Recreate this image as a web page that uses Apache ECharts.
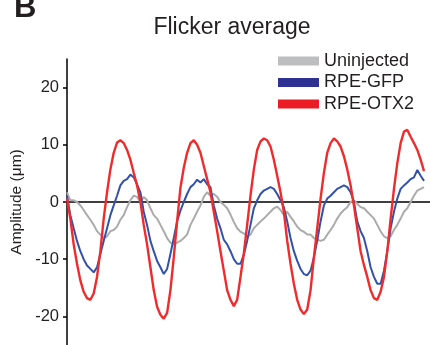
<!DOCTYPE html>
<html>
<head>
<meta charset="utf-8">
<title>Flicker average</title>
<script src="https://cdn.jsdelivr.net/npm/echarts@6/dist/echarts.min.js"></script>
<style>
  html, body { margin: 0; padding: 0; background: #fff; }
  #chart { width: 430px; height: 345px; }
</style>
</head>
<body>
<div id="chart"></div>
<script>
// amplitude (um), one value per sample
const uninjected = [
  1.7, 0.3, 0.3, 0, -0.6, -1.4, -2.3, -3.1, -4.0, -5.1, -5.7, -6.3, -6.0, -5.1, -4.9, -4.3, -3.1, -2.3,
  -0.9, 0.3, 1.1, 0.9, 0, 0.9, 0.3, -1.1, -2.3, -2.9, -4.0, -5.1, -6.3, -7.1, -7.4, -7.1, -6.8, -6.3,
  -5.7, -4.0, -2.9, -1.7, -0.6, 0.9, 1.7, 1.1, 1.4, 0.9, 0, -0.5, -1.1, -2.2, -3.5, -4.6, -5.2, -5.5,
  -6.0, -5.7, -4.6, -4.0, -3.4, -2.9, -2.3, -1.7, -1.1, -0.8, -1.4, -2.3, -1.7, -2.6, -3.4, -4.3, -4.9, -5.2,
  -5.7, -5.7, -6.3, -6.6, -6.8, -6.6, -5.7, -4.9, -4.0, -2.9, -2.0, -1.4, -0.9, 0, 0.3, -0.3, -0.9, -1.1,
  -1.7, -2.3, -2.9, -4.0, -5.1, -6.0, -6.3, -6.0, -4.9, -4.0, -2.9, -1.7, -1.1, 0, 1.1, 2.0, 2.3, 2.6
];
const rpeGfp = [
  1.1, -2.3, -4.6, -6.8, -8.6, -10.0, -11.1, -11.7, -12.3, -11.4, -9.1, -6.8, -4.6, -2.3, -0.6, 1.1, 2.9, 3.7,
  4.0, 4.8, 4.3, 3.1, 1.7, -1.7, -4.0, -6.8, -8.6, -10.3, -11.4, -12.6, -11.7, -9.1, -6.3, -3.4, -1.5, 0,
  1.4, 2.6, 3.1, 3.9, 3.4, 4.0, 3.1, 2.6, -0.6, -2.9, -4.6, -6.6, -7.4, -8.6, -10.0, -10.8, -10.8, -9.2,
  -6.8, -4.0, -1.1, 0.3, 1.4, 2.0, 2.3, 2.6, 2.3, 1.4, 0.3, -0.9, -3.4, -6.3, -8.6, -10.3, -11.7, -12.6,
  -12.8, -12.0, -9.7, -6.8, -3.4, -0.6, 0.6, 1.1, 1.7, 2.3, 2.6, 2.9, 2.6, 1.7, 0, -3.4, -5.1, -6.3,
  -8.6, -11.4, -13.1, -14.3, -14.3, -12.0, -8.6, -4.6, -1.7, 0.6, 2.3, 2.9, 3.4, 4.0, 4.3, 5.6, 4.6, 3.7
];
const rpeOtx2 = [
  0.6, -2.9, -7.4, -10.8, -13.7, -15.7, -16.8, -17.1, -16.0, -13.1, -8.6, -2.9, 1.7, 5.7, 8.6, 10.4, 10.8, 10.3,
  9.1, 7.4, 5.1, 2.9, 0, -4.0, -7.4, -11.4, -15.4, -18.3, -19.7, -20.4, -19.4, -15.4, -9.7, -3.4, 2.5, 6.0,
  8.6, 10.3, 10.8, 10.0, 8.6, 6.3, 4.0, 1.7, -1.7, -5.1, -8.6, -12.0, -15.4, -17.1, -18.2, -17.1, -13.1, -9.0,
  -4.0, 1.1, 5.7, 9.1, 10.6, 11.1, 10.8, 9.7, 7.4, 4.6, 1.7, -1.7, -6.8, -10.8, -14.3, -17.1, -18.8, -19.6,
  -18.8, -15.4, -9.7, -4.6, 0.6, 5.1, 8.6, 10.3, 11.1, 10.6, 9.7, 8.0, 5.7, 2.9, -0.6, -4.6, -8.6, -11.0,
  -13.1, -15.4, -16.8, -17.1, -15.7, -13.1, -8.6, -2.9, 2.3, 6.8, 10.3, 12.3, 12.6, 11.4, 10.3, 9.1, 7.4, 5.4
];
const seriesNames = ['Uninjected', 'RPE-GFP', 'RPE-OTX2'];
const yTicks = [-20, -10, 0, 10, 20];

const pairs = vals => vals.map((v, i) => [i, v]);
const ink = '#231f20';

var myChart = echarts.init(document.getElementById('chart'));
myChart.setOption({
  animation: false,
  textStyle: { fontFamily: 'Liberation Sans, Arial, sans-serif', color: ink },
  title: {
    text: 'Flicker average',
    left: 227,
    textAlign: 'center',
    top: 11,
    textStyle: { fontSize: 23, fontWeight: 'normal', color: ink }
  },
  graphic: [{
    type: 'text',
    left: 14,
    top: -7,
    style: { text: 'B', font: 'bold 31px Liberation Sans, Arial, sans-serif', fill: ink }
  }],
  legend: {
    orient: 'vertical',
    left: 273,
    top: 47,
    itemWidth: 41,
    itemHeight: 9,
    itemGap: 3.5,
    icon: 'rect',
    textStyle: { fontSize: 18, lineHeight: 18, color: ink },
    data: [
      { name: seriesNames[0], itemStyle: { color: '#bcbec0' } },
      { name: seriesNames[1], itemStyle: { color: '#2e3192' } },
      { name: seriesNames[2], itemStyle: { color: '#ed1c24' } }
    ]
  },
  grid: { left: 67, right: 0, top: 59, height: 292 },
  xAxis: {
    type: 'value',
    min: 0,
    max: 108.8,
    axisLine: { show: true, onZero: true, lineStyle: { color: '#000', width: 1.5 } },
    axisTick: { show: false },
    axisLabel: { show: false },
    splitLine: { show: false }
  },
  yAxis: {
    type: 'value',
    min: -25,
    max: 25,
    name: 'Amplitude (μm)',
    nameLocation: 'middle',
    nameGap: 31,
    nameTextStyle: { fontSize: 15.5, color: ink },
    axisLine: { show: true, lineStyle: { color: '#000', width: 1.5 } },
    axisTick: { show: true, length: 4, customValues: yTicks, lineStyle: { color: '#000', width: 1.5 } },
    axisLabel: { customValues: yTicks, fontSize: 16.5, margin: 8, color: ink },
    splitLine: { show: false }
  },
  series: [
    {
      name: seriesNames[0], type: 'line', data: pairs(uninjected),
      showSymbol: false, lineStyle: { color: '#ababab', width: 2 }, itemStyle: { color: '#bcbec0' }
    },
    {
      name: seriesNames[1], type: 'line', data: pairs(rpeGfp),
      showSymbol: false, lineStyle: { color: '#3451a8', width: 2 }, itemStyle: { color: '#2e3192' }
    },
    {
      name: seriesNames[2], type: 'line', data: pairs(rpeOtx2),
      showSymbol: false, lineStyle: { color: '#ef2b2b', width: 2.4 }, itemStyle: { color: '#ed1c24' }
    }
  ]
});
</script>
</body>
</html>
